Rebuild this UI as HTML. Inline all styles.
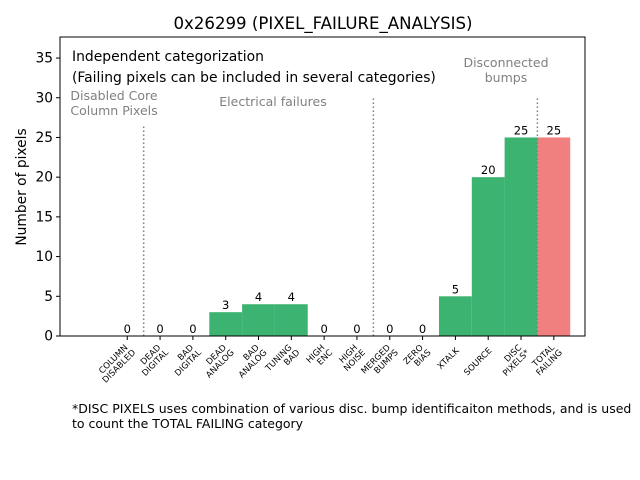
<!DOCTYPE html>
<html><head><meta charset="utf-8"><style>body{margin:0;background:#fff}svg{display:block;font-family:"DejaVu Sans","Liberation Sans",sans-serif}</style></head>
<body>
<svg id="c" width="640" height="480" viewBox="0 0 640 480">
<rect width="640" height="480" fill="#fff"/>
<text x="323" y="29" font-size="16.6" text-anchor="middle">0x26299 (PIXEL_FAILURE_ANALYSIS)</text>
<text transform="translate(26,187) rotate(-90)" font-size="13.8" text-anchor="middle">Number of pixels</text>
<g id="plot"></g>
<text x="72" y="61" font-size="13.9">Independent categorization</text>
<text x="72" y="82" font-size="13.9">(Failing pixels can be included in several categories)</text>
<g fill="#808080" font-size="12.5">
<text x="114" y="100" text-anchor="middle">Disabled Core</text>
<text x="114" y="115" text-anchor="middle">Column Pixels</text>
<text x="273" y="106" text-anchor="middle">Electrical failures</text>
<text x="506" y="67" text-anchor="middle">Disconnected</text>
<text x="506" y="82" text-anchor="middle">bumps</text>
</g>
<text x="72" y="413" font-size="12.5">*DISC PIXELS uses combination of various disc. bump identificaiton methods, and is used</text>
<text x="72" y="428" font-size="12.5">to count the TOTAL FAILING category</text>
</svg>
<script>
const categories=[["COLUMN","DISABLED"],["DEAD","DIGITAL"],["BAD","DIGITAL"],["DEAD","ANALOG"],["BAD","ANALOG"],["TUNING","BAD"],["HIGH","ENC"],["HIGH","NOISE"],["MERGED","BUMPS"],["ZERO","BIAS"],["XTALK"],["SOURCE"],["DISC","PIXELS*"],["TOTAL","FAILING"]];
const values=[0,0,0,3,4,4,0,0,0,0,5,20,25,25];
const yTicks=[0,5,10,15,20,25,30,35];
const dividerPos=[0.5,7.5,12.5];
const dividerTop=[26.5,30,30];
const L=60,R=585,T=37,B=336,X0=-2.05,X1=13.95,Y1=37.65;
const xs=v=>L+(v-X0)/(X1-X0)*(R-L);
const ys=v=>B-v/Y1*(B-T);
const NS="http://www.w3.org/2000/svg";
const g=document.getElementById('plot');
function mk(t,a){const e=document.createElementNS(NS,t);for(const k in a)e.setAttribute(k,a[k]);g.appendChild(e);return e;}
const w=xs(1)-xs(0);
values.forEach((v,i)=>{
 const r=mk('rect',{x:xs(i)-w/2,y:ys(v),width:w,height:B-ys(v),fill:i===13?'#f08080':'#3cb371'});
 
 
 const t=mk('text',{x:xs(i),y:ys(v)-3,'font-size':11.5,'text-anchor':'middle'});t.textContent=v;
 
 
 const tk=mk('line',{x1:xs(i),x2:xs(i),y1:B,y2:B+4,stroke:'#000'});
 
 
 const two=categories[i].length>1;
 const lab=mk('text',{transform:`translate(${xs(i)+(two?1:4)},${B+(two?12:15)}) rotate(-45)`,'font-size':8.5,'text-anchor':'end'});
 
 
 categories[i].forEach((s,j)=>{const ts=document.createElementNS(NS,'tspan');ts.setAttribute('x',j?2:0);ts.setAttribute('dy',j?9:0);ts.textContent=s;lab.appendChild(ts);});
});
dividerPos.forEach((p,i)=>{
 const l=mk('line',{x1:xs(p),x2:xs(p),y1:B,y2:ys(dividerTop[i]),stroke:'#808080','stroke-width':1.5,'stroke-dasharray':'1.5,2.5'});
 
 
});
yTicks.forEach(v=>{
 const l=mk('line',{x1:L-4,x2:L,y1:ys(v),y2:ys(v),stroke:'#000'});
 
 
 const t=mk('text',{x:L-7,y:ys(v)+4.5,'font-size':13.8,'text-anchor':'end'});t.textContent=v;
 
 
});
const f=mk('rect',{x:L,y:T,width:R-L,height:B-T,fill:'none',stroke:'#000'});


</script>
</body></html>
